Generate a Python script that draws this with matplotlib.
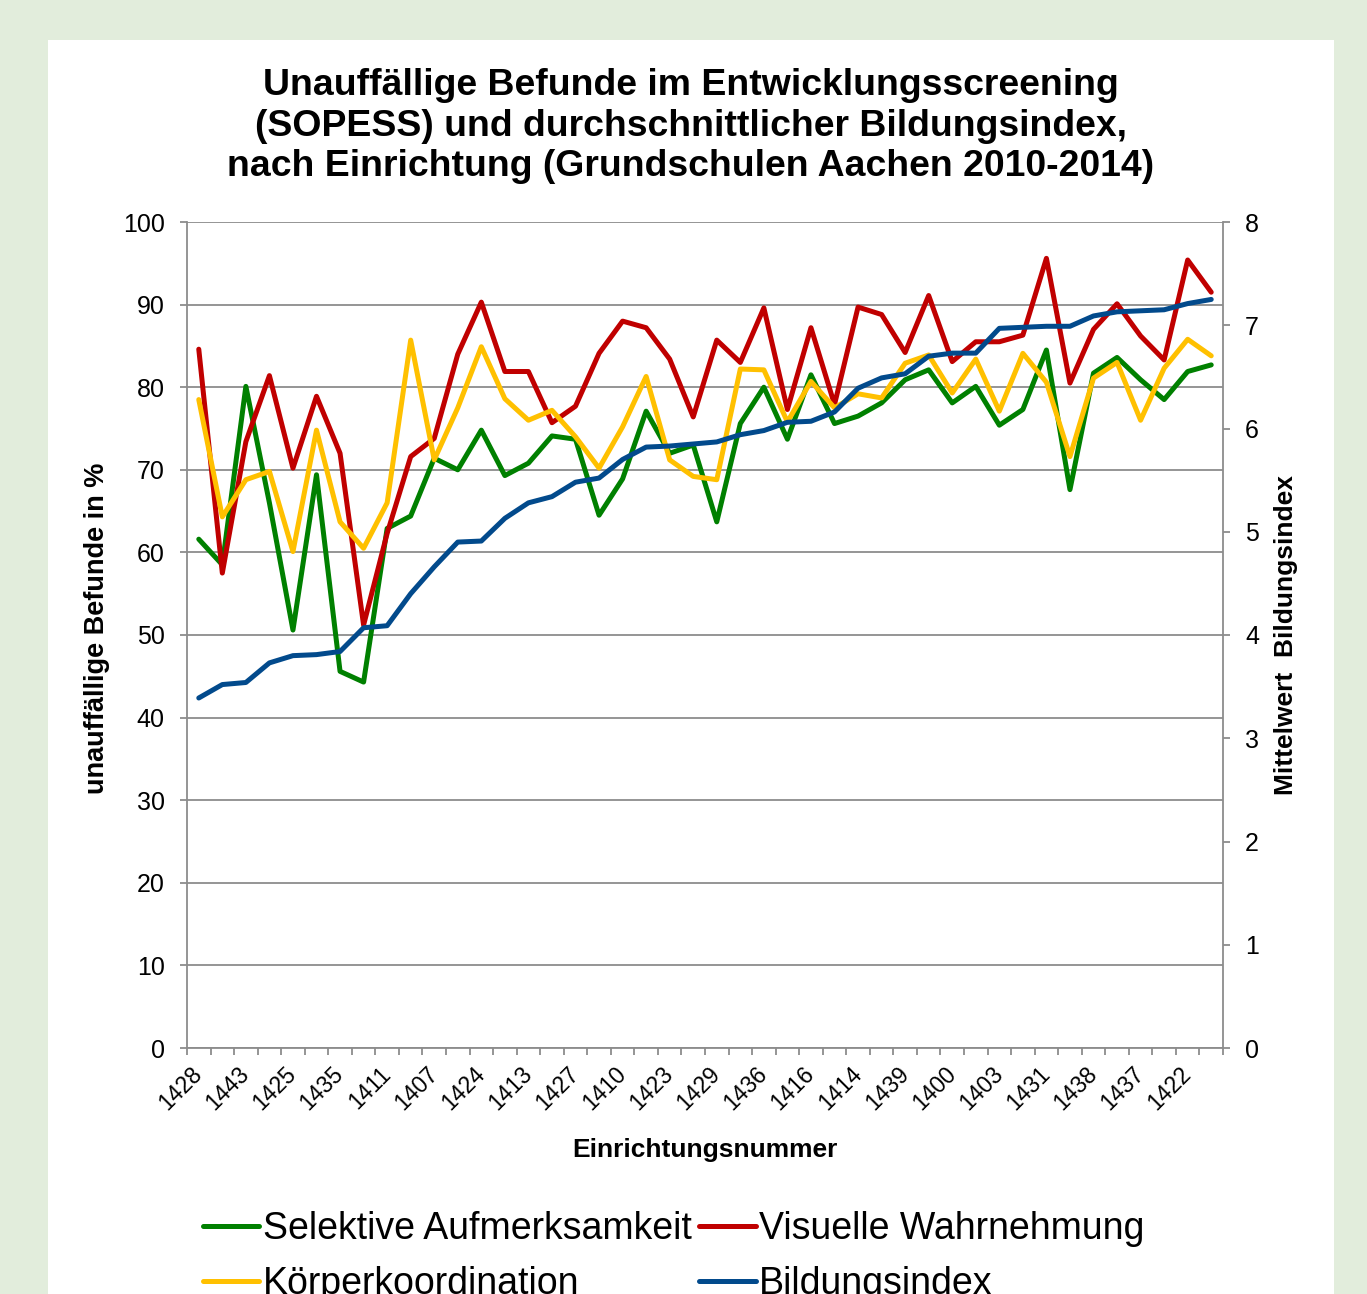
import matplotlib
matplotlib.use("Agg")
import matplotlib.pyplot as plt
from matplotlib.patches import Rectangle
import numpy as np

plt.rcParams["font.family"] = ["Liberation Sans", "DejaVu Sans"]

# Einrichtungsnummern (only every other one is labelled on the axis)
tick_labels = ["1428", "1443", "1425", "1435", "1411", "1407", "1424", "1413",
               "1427", "1410", "1423", "1429", "1436", "1416", "1414", "1439",
               "1400", "1403", "1431", "1438", "1437", "1422"]

selektive = [61.6, 58.5, 80.1, 66.0, 50.6, 69.4, 45.6, 44.3, 62.9, 64.4, 71.4,
             70.0, 74.8, 69.3, 70.8, 74.1, 73.7, 64.5, 68.9, 77.1, 72.0, 73.0,
             63.7, 75.6, 80.0, 73.7, 81.5, 75.6, 76.5, 78.1, 80.9, 82.1, 78.1,
             80.1, 75.4, 77.3, 84.5, 67.6, 81.7, 83.6, 80.9, 78.5, 81.9, 82.7]
visuelle = [84.6, 57.5, 73.4, 81.4, 70.2, 78.9, 72.0, 51.2, 62.3, 71.6, 73.8,
            84.0, 90.3, 81.9, 81.9, 75.7, 77.7, 84.1, 88.0, 87.2, 83.4, 76.4,
            85.7, 83.0, 89.6, 77.3, 87.2, 77.9, 89.7, 88.8, 84.2, 91.1, 83.1,
            85.5, 85.5, 86.3, 95.6, 80.5, 87.0, 90.1, 86.2, 83.3, 95.4, 91.5]
koerper = [78.5, 64.3, 68.8, 69.8, 60.1, 74.8, 63.7, 60.5, 66.0, 85.7, 71.2,
           77.5, 84.9, 78.6, 76.0, 77.2, 74.0, 70.2, 75.2, 81.3, 71.2, 69.2,
           68.8, 82.2, 82.1, 75.8, 80.7, 77.5, 79.2, 78.7, 82.9, 83.9, 79.3,
           83.4, 77.1, 84.1, 80.6, 71.6, 81.1, 83.0, 76.0, 82.3, 85.8, 83.8]
bildung = [3.39, 3.52, 3.54, 3.73, 3.80, 3.81, 3.84, 4.07, 4.09, 4.40, 4.66,
           4.90, 4.91, 5.13, 5.28, 5.34, 5.48, 5.52, 5.70, 5.82, 5.83, 5.85,
           5.87, 5.94, 5.98, 6.06, 6.07, 6.16, 6.39, 6.49, 6.53, 6.70, 6.73,
           6.73, 6.97, 6.98, 6.99, 6.99, 7.09, 7.13, 7.14, 7.15, 7.21, 7.25]

GREEN = "#008000"
RED = "#C00000"
YELLOW = "#FFC000"
BLUE = "#024A8C"
GRID = "#8C8C8C"

W, H = 1367, 1294
fig = plt.figure(figsize=(W / 100, H / 100), dpi=100)
fig.patch.set_facecolor("#E2EDDC")
# white chart area on the light green page
fig.patches.append(Rectangle((48 / W, 0), (1334 - 48) / W, (H - 40) / H,
                             transform=fig.transFigure, facecolor="white",
                             edgecolor="none", zorder=-10))

ax = fig.add_axes([187 / W, 1 - 1048 / H, (1223 - 187) / W, (1048 - 222) / H])
ax.set_facecolor("white")
x = np.arange(len(selektive))

lw = 3.6
l1, = ax.plot(x, selektive, color=GREEN, lw=lw, label="Selektive Aufmerksamkeit",
              solid_capstyle="round", zorder=3)
l2, = ax.plot(x, visuelle, color=RED, lw=lw, label="Visuelle Wahrnehmung",
              solid_capstyle="round", zorder=4)
l3, = ax.plot(x, koerper, color=YELLOW, lw=lw, label="Körperkoordination",
              solid_capstyle="round", zorder=5)

ax.set_xlim(-0.5, len(x) - 0.5)
ax.set_ylim(0, 100)
ax.set_yticks(np.arange(0, 101, 10))
ax.grid(axis="y", color=GRID, lw=1.3)
ax.set_axisbelow(True)
for side in ["top", "right"]:
    ax.spines[side].set_visible(False)
for side in ["left", "bottom"]:
    ax.spines[side].set_color(GRID)
    ax.spines[side].set_linewidth(1.3)
ax.tick_params(axis="y", direction="out", length=5, width=1.3, color=GRID,
               labelsize=18, pad=11)

# category boundary ticks, labels on every second category
ax.set_xticks(np.arange(-0.5, len(x), 1.0), minor=True)
ax.set_xticks(np.arange(0, len(x), 2))
ax.set_xticklabels(tick_labels, rotation=45, ha="right", va="center",
                   rotation_mode="anchor", fontsize=16.5)
ax.tick_params(axis="x", which="major", length=0, pad=16)
ax.tick_params(axis="x", which="minor", direction="out", length=5, width=1.3,
               color=GRID)

ax2 = ax.twinx()
l4, = ax2.plot(x, bildung, color=BLUE, lw=lw, label="Bildungsindex",
               solid_capstyle="round", zorder=6)
ax2.set_ylim(0, 8)
ax2.set_yticks(np.arange(0, 9, 1))
for side in ["top", "left", "bottom"]:
    ax2.spines[side].set_visible(False)
ax2.spines["right"].set_color(GRID)
ax2.spines["right"].set_linewidth(1.3)
ax2.tick_params(axis="y", direction="out", length=5, width=1.3, color=GRID,
                labelsize=18, pad=11)

fig.text(0.5055, 1 - 126 / H,
         "Unauffällige Befunde im Entwicklungsscreening\n"
         "(SOPESS) und durchschnittlicher Bildungsindex,\n"
         "nach Einrichtung (Grundschulen Aachen 2010-2014)",
         ha="center", va="center", fontsize=26.9, fontweight="bold",
         linespacing=1.22)

fig.text(97 / W, 1 - 628 / H, "unauffällige Befunde in %", rotation=90,
         ha="center", va="center", fontsize=19.5, fontweight="bold")
fig.text(1286 / W, 1 - 635 / H, "Mittelwert  Bildungsindex", rotation=90,
         ha="center", va="center", fontsize=19, fontweight="bold")
fig.text(705 / W, 1 - 1150 / H, "Einrichtungsnummer",
         ha="center", va="center", fontsize=19, fontweight="bold")

fig.legend(handles=[l1, l3, l2, l4], ncol=2, loc="upper left",
           bbox_to_anchor=(203 / W, 1 - 1211 / H), frameon=False,
           fontsize=27, handlelength=1.5, handletextpad=0.1,
           columnspacing=0.2, labelspacing=0.51, borderpad=0,
           borderaxespad=0)

fig.savefig("out.png", dpi=100, facecolor=fig.get_facecolor())
